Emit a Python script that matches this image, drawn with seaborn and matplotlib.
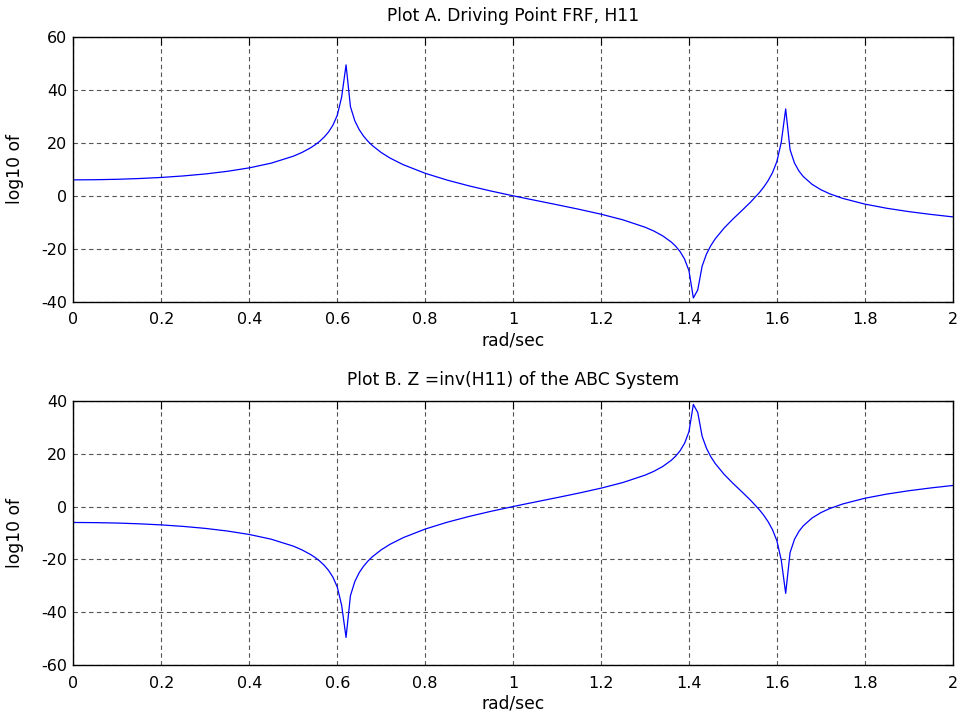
import matplotlib
matplotlib.use("Agg")
import matplotlib.pyplot as plt
import seaborn as sns
import pandas as pd

# frequency samples (rad/sec)
freq = [0.0, 0.05, 0.10, 0.15, 0.20, 0.25, 0.30, 0.35, 0.40, 0.45, 0.50,
        0.52, 0.54, 0.55, 0.56, 0.57, 0.58, 0.59, 0.60, 0.61, 0.62, 0.63,
        0.64, 0.65, 0.66, 0.67, 0.68, 0.70, 0.72, 0.75, 0.80, 0.85, 0.90,
        0.95, 1.00, 1.05, 1.10, 1.15, 1.20, 1.25, 1.30, 1.32, 1.34, 1.36,
        1.37, 1.38, 1.39, 1.40, 1.41, 1.42, 1.43, 1.44, 1.45, 1.46, 1.48,
        1.50, 1.52, 1.54, 1.56, 1.57, 1.58, 1.59, 1.60, 1.61, 1.62, 1.63,
        1.64, 1.65, 1.66, 1.68, 1.70, 1.72, 1.75, 1.80, 1.85, 1.90, 1.95, 2.00]

# Plot A: driving point FRF H11 (dB)
h11_db = [6.02, 6.08, 6.24, 6.53, 6.94, 7.51, 8.26, 9.25, 10.56, 12.35, 14.96,
          16.40, 18.20, 19.30, 20.59, 22.14, 24.08, 26.64, 30.39, 37.32, 49.46, 33.68,
          28.32, 24.97, 22.52, 20.57, 18.96, 16.35, 14.27, 11.76, 8.51, 5.93, 3.74,
          1.79, 0.00, -1.70, -3.38, -5.10, -6.95, -9.09, -11.86, -13.30, -15.10, -17.50,
          -19.09, -21.11, -23.90, -28.29, -38.59, -35.56, -26.54, -21.95, -18.74, -16.21, -12.17,
          -8.79, -5.63, -2.41, 1.18, 3.27, 5.71, 8.74, 12.93, 20.28, 32.82, 17.42,
          12.41, 9.41, 7.29, 4.34, 2.31, 0.77, -0.99, -3.13, -4.71, -5.97, -7.03, -7.96]

# Plot B: Z = inv(H11) (dB)
z_db = [-6.02, -6.08, -6.24, -6.53, -6.94, -7.51, -8.26, -9.25, -10.56, -12.35, -14.96,
        -16.40, -18.20, -19.30, -20.59, -22.14, -24.08, -26.64, -30.39, -37.32, -49.46, -33.68,
        -28.32, -24.97, -22.52, -20.57, -18.96, -16.35, -14.27, -11.76, -8.51, -5.93, -3.74,
        -1.79, 0.00, 1.70, 3.38, 5.10, 6.95, 9.09, 11.86, 13.30, 15.10, 17.50,
        19.09, 21.11, 23.90, 28.29, 38.59, 35.56, 26.54, 21.95, 18.74, 16.21, 12.17,
        8.79, 5.63, 2.41, -1.18, -3.27, -5.71, -8.74, -12.93, -20.28, -32.82, -17.42,
        -12.41, -9.41, -7.29, -4.34, -2.31, -0.77, 0.99, 3.13, 4.71, 5.97, 7.03, 7.96]

x_ticks = [0, 0.2, 0.4, 0.6, 0.8, 1.0, 1.2, 1.4, 1.6, 1.8, 2.0]
x_tick_labels = ["0", "0.2", "0.4", "0.6", "0.8", "1", "1.2", "1.4", "1.6", "1.8", "2"]
yticks_a = [-40, -20, 0, 20, 40, 60]
yticks_b = [-60, -40, -20, 0, 20, 40]
titles = ["Plot A. Driving Point FRF, H11", "Plot B. Z =inv(H11) of the ABC System"]

sns.set_style("white")
plt.rcParams['font.family'] = ['DejaVu Sans']
plt.rcParams['text.color'] = 'black'
FS = 11.5
FS_T = 12.3

df = pd.DataFrame({"freq": freq, "A": h11_db, "B": z_db})

fig = plt.figure(figsize=(9.58, 7.13), dpi=100)
ax_a = fig.add_axes([0.0767, 0.5769, 0.9178, 0.3712])
ax_b = fig.add_axes([0.0767, 0.0669, 0.9178, 0.3711])

for ax, col, yt, title in [(ax_a, "A", yticks_a, titles[0]), (ax_b, "B", yticks_b, titles[1])]:
    sns.lineplot(data=df, x="freq", y=col, ax=ax, color=(0, 0, 1), linewidth=0.9,
                 estimator=None, sort=False)
    ax.set_xlim(0, 2)
    ax.set_ylim(yt[0], yt[-1])
    ax.set_xticks(x_ticks)
    ax.set_xticklabels(x_tick_labels)
    ax.set_yticks(yt)
    ax.set_yticklabels([str(v) for v in yt])
    ax.grid(True, color="#555555", linestyle=(0, (4, 3)), linewidth=0.8)
    ax.set_axisbelow(True)
    ax.tick_params(direction="in", length=6, width=0.8, top=True, right=True,
                   labelsize=FS, colors="black")
    ax.tick_params(axis="x", pad=7.5)
    ax.tick_params(axis="y", pad=4.5)
    for s in ax.spines.values():
        s.set_visible(True)
        s.set_color("black")
        s.set_linewidth(1.0)
    ax.set_title(title, fontsize=FS_T, pad=11.5, color="black")
    ax.set_xlabel("rad/sec", fontsize=FS_T, labelpad=3, color="black")
    ax.set_ylabel("log10 of", fontsize=FS_T, color="black")
    ax.yaxis.set_label_coords(-0.0563, 0.5)

fig.savefig("out.png", dpi=100, facecolor="white")
